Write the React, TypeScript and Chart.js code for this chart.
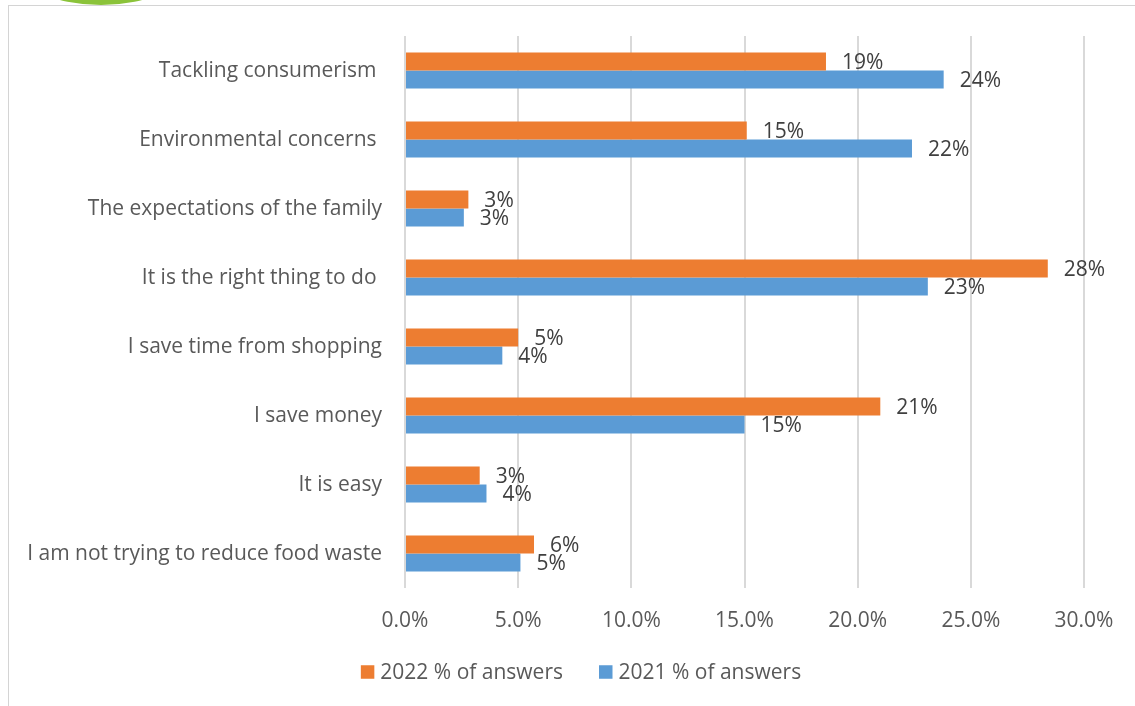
import React, { useEffect, useRef } from "react";
import { Chart, registerables } from "chart.js";

Chart.register(...registerables);

const FONT = "'Open Sans', sans-serif";
const FONT_SIZE = 21;

const categories = [
  "Tackling consumerism ",
  "Environmental concerns ",
  "The expectations of the family",
  "It is the right thing to do ",
  "I save time from shopping",
  "I save money",
  "It is easy",
  "I am not trying to reduce food waste",
];
const values2022 = [18.6, 15.1, 2.8, 28.4, 5.0, 21.0, 3.3, 5.7];
const values2021 = [23.8, 22.4, 2.6, 23.1, 4.3, 15.0, 3.6, 5.1];
const seriesLabels = ["2022 % of answers", "2021 % of answers"];
const seriesColors = ["#ED7D31", "#5B9BD5"];
const xMin = 0;
const xMax = 30;
const xStep = 5;

const dataLabelPlugin = {
  id: "dataLabels",
  afterDatasetsDraw(chart: any) {
    const ctx = chart.ctx;
    ctx.save();
    ctx.font = `${FONT_SIZE}px ${FONT}`;
    ctx.fillStyle = "#404040";
    ctx.textAlign = "left";
    ctx.textBaseline = "middle";
    chart.data.datasets.forEach((ds: any, di: number) => {
      const meta = chart.getDatasetMeta(di);
      meta.data.forEach((el: any, i: number) => {
        ctx.fillText(Math.round(ds.data[i]) + "%", el.x + 16, el.y + 2);
      });
    });
    ctx.restore();
  },
};

const legendPlugin = {
  id: "customLegend",
  afterDraw(chart: any) {
    const ctx = chart.ctx;
    ctx.save();
    ctx.font = `${FONT_SIZE}px ${FONT}`;
    const box = 13.5;
    const gapText = 6;
    const gapItems = 36;
    const items = chart.data.datasets.map((ds: any) => ({
      text: ds.label,
      color: ds.backgroundColor,
      w: ctx.measureText(ds.label).width,
    }));
    const total =
      items.reduce((s: number, it: any) => s + box + gapText + it.w, 0) +
      gapItems * (items.length - 1);
    let x = 581 - total / 2;
    const cy = 672;
    items.forEach((it: any) => {
      ctx.fillStyle = it.color;
      ctx.fillRect(x, cy - box / 2, box, box);
      x += box + gapText;
      ctx.fillStyle = "#595959";
      ctx.textAlign = "left";
      ctx.textBaseline = "middle";
      ctx.fillText(it.text, x, cy + 1);
      x += it.w + gapItems;
    });
    ctx.restore();
  },
};

export default function App() {
  const ref = useRef<HTMLCanvasElement>(null);
  useEffect(() => {
    if (!ref.current) return;
    const chart = new Chart(ref.current, {
      type: "bar",
      data: {
        labels: categories,
        datasets: [
          {
            label: seriesLabels[0],
            data: values2022,
            backgroundColor: seriesColors[0],
            barPercentage: 1,
            categoryPercentage: 0.522,
          },
          {
            label: seriesLabels[1],
            data: values2021,
            backgroundColor: seriesColors[1],
            barPercentage: 1,
            categoryPercentage: 0.522,
          },
        ],
      },
      options: {
        indexAxis: "y",
        responsive: false,
        animation: false,
        layout: { padding: { left: 0, right: 51, top: 36, bottom: 78 } },
        plugins: {
          legend: { display: false },
          tooltip: { enabled: false },
        },
        scales: {
          x: {
            min: xMin,
            max: xMax,
            border: { display: false },
            grid: { color: "#d9d9d9", lineWidth: 2, drawTicks: false },
            ticks: {
              stepSize: xStep,
              padding: 20,
              color: "#595959",
              font: { family: FONT, size: FONT_SIZE },
              callback: (v: any) => Number(v).toFixed(1) + "%",
            },
            afterFit: (axis: any) => {
              axis.height = 40;
            },
          },
          y: {
            border: { display: false },
            grid: { display: false, drawTicks: false },
            ticks: {
              padding: 23,
              labelOffset: 1,
              color: "#595959",
              font: { family: FONT, size: FONT_SIZE },
            },
            afterFit: (axis: any) => {
              axis.width = 405;
            },
          },
        },
      },
      plugins: [dataLabelPlugin, legendPlugin],
    });
    return () => chart.destroy();
  }, []);

  return (
    <div
      style={{
        position: "absolute",
        left: 0,
        top: 0,
        width: 1135,
        height: 706,
        background: "#ffffff",
        overflow: "hidden",
      }}
    >
      <div
        style={{
          position: "absolute",
          left: 101 - 172,
          top: 5 - 344,
          width: 344,
          height: 344,
          borderRadius: "50%",
          background: "#8BC33A",
        }}
      />
      <div
        style={{
          position: "absolute",
          left: 8,
          top: 5,
          width: 1127,
          height: 1,
          background: "#d4d4d4",
        }}
      />
      <div
        style={{
          position: "absolute",
          left: 8,
          top: 5,
          width: 1,
          height: 701,
          background: "#d4d4d4",
        }}
      />
      <canvas
        ref={ref}
        width={1135}
        height={706}
        style={{ position: "absolute", left: 0, top: 0, width: 1135, height: 706, display: "block" }}
      />
    </div>
  );
}
